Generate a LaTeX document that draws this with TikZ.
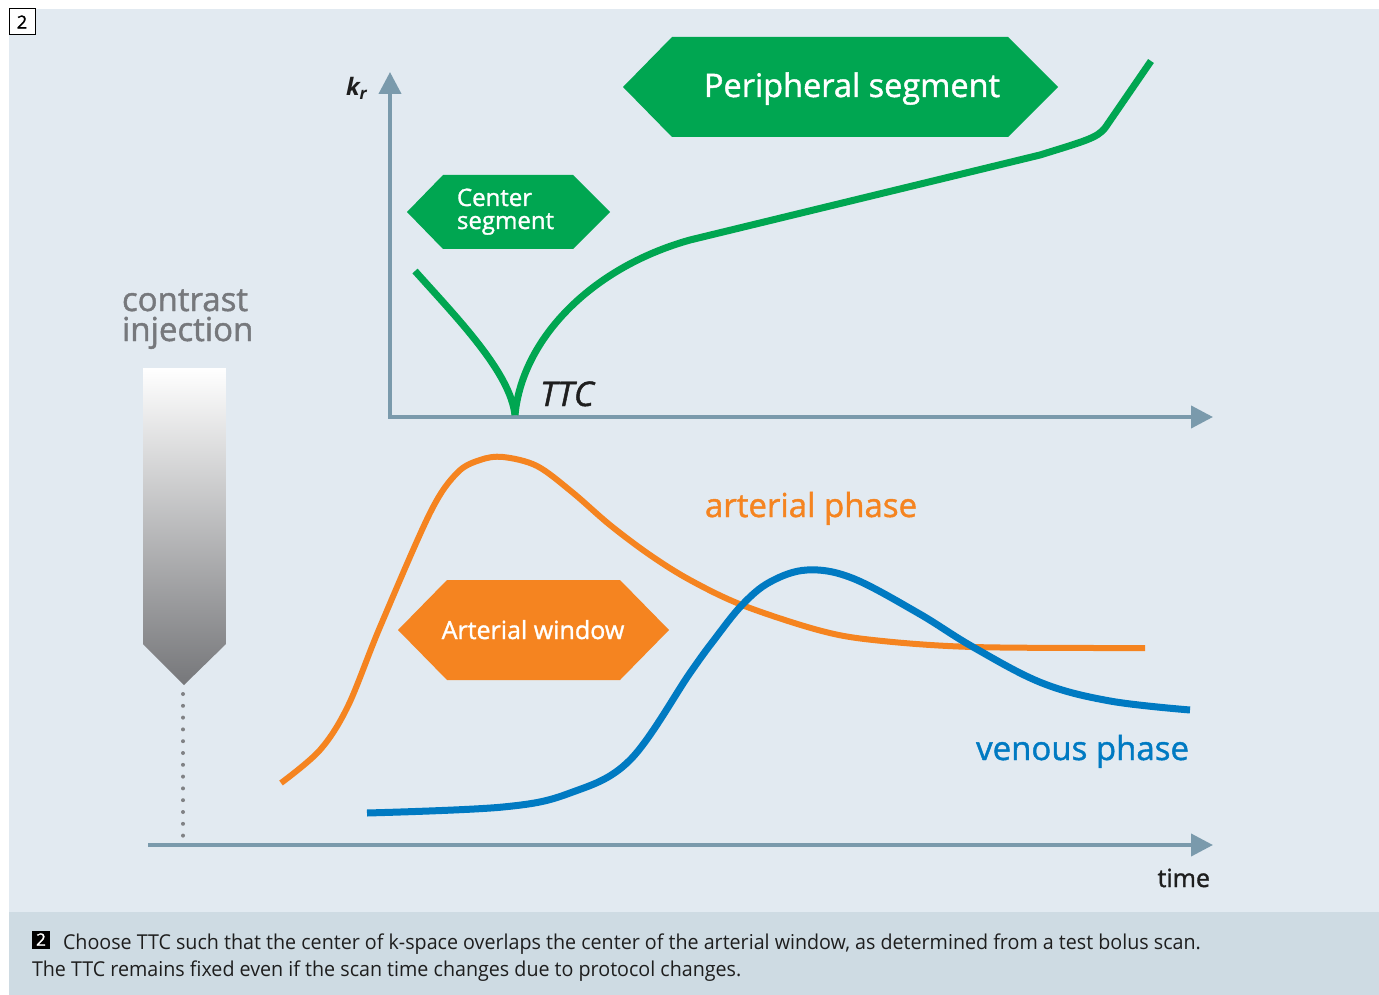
\documentclass[tikz,border=0pt]{standalone}
\usepackage{fontspec}
\setmainfont{Open Sans}
\newfontfamily\semib[FakeBold=1.3]{Open Sans}
\newfontfamily\capfont[FakeStretch=0.96]{Open Sans}
\usetikzlibrary{arrows.meta}
\definecolor{bgc}{RGB}{226,234,241}
\definecolor{capbg}{RGB}{206,219,227}
\definecolor{axisc}{RGB}{122,154,172}
\definecolor{sgreen}{RGB}{0,166,81}
\definecolor{sorange}{RGB}{245,132,32}
\definecolor{sblue}{RGB}{0,122,194}
\definecolor{graytxt}{RGB}{118,120,124}
\definecolor{dotc}{RGB}{128,130,133}
\definecolor{injbot}{RGB}{118,119,122}
\definecolor{darktxt}{RGB}{30,30,30}
\tikzset{
  axisline/.style={draw=axisc, line width=4pt, line join=miter},
  tipc/.style={-{Triangle[length=22pt,width=22pt]}},
  curvegreen/.style={draw=sgreen, line width=7pt},
  curveorange/.style={draw=sorange, line width=6pt},
  curveblue/.style={draw=sblue, line width=7pt},
  lbl/.style={inner sep=0pt, outer sep=0pt},
  fs/.style={font=\semib\fontsize{#1}{#1}\selectfont}
}
\begin{document}
\begin{tikzpicture}[x=1pt,y=-1pt]
\useasboundingbox (0,0) rectangle (1379,995);
\fill[white] (0,0) rectangle (1379,995);
\fill[bgc] (9,9) rectangle (1379,912);
\fill[capbg] (9,912) rectangle (1379,995);

% figure number box
\node[draw=black, fill=white, line width=1pt, minimum width=26pt, minimum height=26pt, inner sep=0pt, fs=18] (fignum) at (22,22) {2};

% axes
\coordinate (origin) at (390,417);
\coordinate (ytip) at (390,72);
\coordinate (xtip) at (1213,417);
\coordinate (tstart) at (148,845);
\coordinate (ttip) at (1213,845);
\draw[axisline, {Triangle[length=22pt,width=22pt]}-{Triangle[length=22pt,width=22pt]}] (ytip) -- (origin) -- (xtip);
\draw[axisline, tipc] (tstart) -- (ttip);

% k-space labels
\node[lbl, anchor=base west, font=\fontsize{24}{24}\selectfont, darktxt] (kr) at (346,96) {\bfseries\itshape k\textsubscript{r}};
\node[lbl, anchor=base west, fs=34, darktxt] (ttc) at (540,406) {\itshape TTC};

% hexagons
\fill[sgreen] (623,87) -- (672,37) -- (1008,37) -- (1058,87) -- (1008,137) -- (672,137) -- cycle;
\node[lbl, anchor=base, fs=32.5, white] (periph) at (852,97) {Peripheral segment};
\fill[sgreen] (407,212) -- (443,175) -- (573,175) -- (610,212) -- (573,249) -- (443,249) -- cycle;
\node[lbl, anchor=base west, white, align=left, font=\semib\fontsize{24}{23}\selectfont] (center) at (457,229) {Center\\segment};
\fill[sorange] (398,630) -- (447,580) -- (620,580) -- (669,630) -- (620,680) -- (447,680) -- cycle;
\node[lbl, anchor=base, fs=25, white] (artwin) at (533,639) {Arterial window};

% green k-space curve
\draw[curvegreen] (415,271) .. controls (457,318) and (510,372) .. (515,415);
\draw[curvegreen, line join=round] (515,415) .. controls (522,340) and (590,268) .. (690,240)
   -- (1040,155) .. controls (1085,141) and (1097,138) .. (1105,128) -- (1151,61);

% contrast injection
\node[lbl, anchor=base west, align=left, font=\semib\fontsize{33}{30}\selectfont, graytxt] (inj) at (122,341) {contrast\\injection};
\shade[top color=white, bottom color=injbot] (143,368) -- (226,368) -- (226,644) -- (184,685) -- (143,644) -- cycle;
\coordinate (dotstart) at (183,694);
\coordinate (dotend) at (183,836);
\draw[dotc, line width=4pt, line cap=round, dash pattern=on 0pt off 11.8pt] (dotstart) -- (dotend);

% arterial curve
\draw[curveorange] plot[smooth, tension=0.55] coordinates {(281,783) (320,750) (348,706) (380,627) (430,513) (457,473) (480,460) (503,457) (537,466) (572,492) (610,525) (650,555) (690,580) (742,605) (818,630) (873,640) (973,647) (1145,648)};
% venous curve
\draw[curveblue] plot[smooth, tension=0.6] coordinates {(367,813) (503,807) (570,793) (630,760) (690,673) (714,640) (742,605) (770,582) (807,570) (852,578) (918,613) (973,647) (1042,683) (1110,701) (1190,710)};

\node[lbl, anchor=base west, fs=33, sorange] (artph) at (705,517) {arterial phase};
\node[lbl, anchor=base east, fs=33, sblue] (venph) at (1189,760) {venous phase};
\node[lbl, anchor=base east, fs=25, darktxt] (timelbl) at (1210,887) {time};

% caption
\node[fill=black, text=white, minimum width=18pt, minimum height=18pt, inner sep=0pt, font=\semib\fontsize{17}{17}\selectfont] (capnum) at (41,939.5) {2};
\node[lbl, anchor=base west, font=\capfont\fontsize{20.5}{20.5}\selectfont, darktxt] (cap1) at (63,949) {Choose TTC such that the center of k-space overlaps the center of the arterial window, as determined from a test bolus scan.};
\node[lbl, anchor=base west, font=\capfont\fontsize{20.5}{20.5}\selectfont, darktxt] (cap2) at (32,976) {The TTC remains fixed even if the scan time changes due to protocol changes.};
\end{tikzpicture}
\end{document}
